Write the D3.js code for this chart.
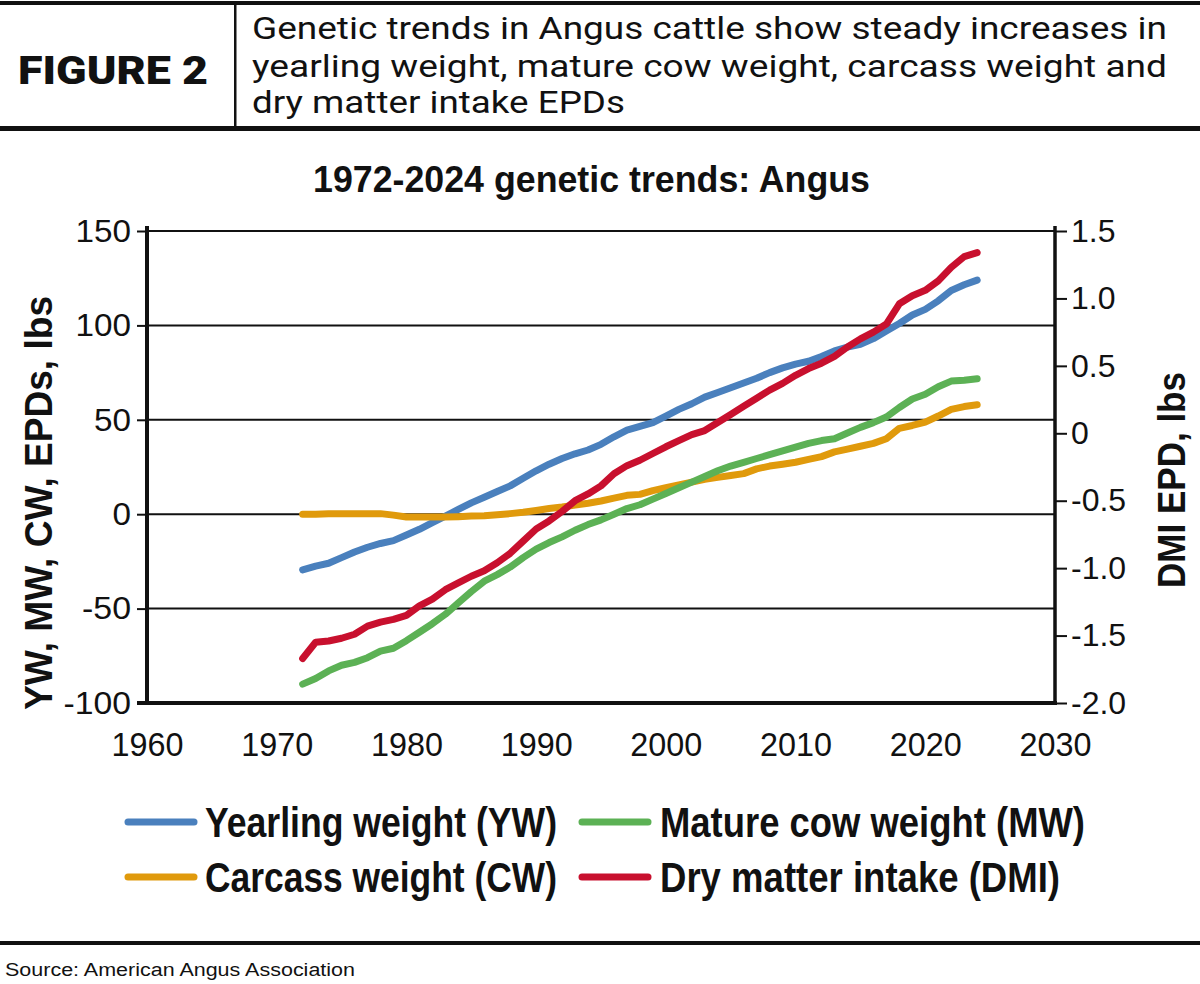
<!DOCTYPE html>
<html>
<head>
<meta charset="utf-8">
<script src="https://cdn.jsdelivr.net/npm/d3@7"></script>
<style>
  html, body { margin: 0; padding: 0; background: #ffffff; }
  svg { display: block; }
</style>
</head>
<body>
<svg id="chart" width="1200" height="984"></svg>
<script>
// ---------- DATA ----------
const years = d3.range(1972, 2025);
const yearlingWeight = [-29.5,-27.5,-26,-23,-20,-17.5,-15.5,-14,-11,-8,-4.5,-1,2.5,6,9,12,15,19,23,26.5,29.5,32,34,37,41,44.5,46.5,48.5,52,55.5,58.5,62,64.5,67,69.5,72,75,77.5,79.5,81,83.5,86.5,88.5,90,93,97,101,105.5,108.5,113,118.5,121.5,124];
const matureCowWeight = [-90,-87,-83,-80,-78.5,-76,-72.5,-71,-67,-62.5,-58,-53,-47,-41,-35.5,-32,-28,-23,-18.5,-15,-12,-8.5,-5.5,-3,0,3,5,8,11,14,17,20,23,25.5,27.5,29.5,31.5,33.5,35.5,37.5,39,40,43,46,48.5,51.5,56.5,61,63.5,67.5,70.5,71,71.7];
const carcassWeight = [0,0,0.2,0.3,0.3,0.3,0.3,-0.5,-1.5,-1.5,-1.5,-1.5,-1.3,-1,-0.8,-0.3,0.3,1,2,3,3.8,4.8,5.8,7,8.5,10,10.5,12.5,14,15.5,17,18.5,19.5,20.5,21.5,24,25.5,26.5,27.5,29,30.5,33,34.5,36,37.5,40,45.5,47,48.8,52,55.5,57,58];
const dryMatterIntake = [-1.67,-1.55,-1.54,-1.52,-1.49,-1.43,-1.40,-1.38,-1.35,-1.28,-1.23,-1.16,-1.11,-1.06,-1.02,-0.96,-0.89,-0.80,-0.71,-0.65,-0.58,-0.50,-0.45,-0.39,-0.30,-0.24,-0.20,-0.15,-0.10,-0.055,-0.01,0.02,0.08,0.14,0.20,0.26,0.32,0.37,0.43,0.48,0.52,0.57,0.64,0.70,0.75,0.81,0.96,1.02,1.06,1.13,1.23,1.31,1.34];

const xTicks = [1960, 1970, 1980, 1990, 2000, 2010, 2020, 2030];
const leftTicks = [-100, -50, 0, 50, 100, 150];
const leftTickLabels = ["-100", "-50", "0", "50", "100", "150"];
const rightTicks = [-2.0, -1.5, -1.0, -0.5, 0, 0.5, 1.0, 1.5];
const rightTickLabels = ["-2.0", "-1.5", "-1.0", "-0.5", "0", "0.5", "1.0", "1.5"];

const seriesNames = ["Yearling weight (YW)", "Mature cow weight (MW)", "Carcass weight (CW)", "Dry matter intake (DMI)"];
const seriesColors = ["#4a80bd", "#5cb155", "#e09a0c", "#c8102e"];

const headerLines = [
  "Genetic trends in Angus cattle show steady increases in",
  "yearling weight, mature cow weight, carcass weight and",
  "dry matter intake EPDs"
];

// ---------- SETUP ----------
const svg = d3.select("#chart");
const W = 1200;
const plotLeft = 147, plotRight = 1055, plotTop = 231, plotBottom = 703;

const x = d3.scaleLinear().domain([1960, 2030]).range([plotLeft, plotRight]);
const yL = d3.scaleLinear().domain([-100, 150]).range([plotBottom, plotTop]);
const yR = d3.scaleLinear().domain([-2, 1.5]).range([plotBottom, plotTop]);

const narrow = "'Liberation Sans Narrow', 'Arial Narrow', 'Liberation Sans', Arial, sans-serif";
const regular = "'Liberation Sans', Arial, Helvetica, sans-serif";

// ---------- HEADER ----------
svg.append("rect").attr("x", 0).attr("y", 1).attr("width", W).attr("height", 4).attr("fill", "#111");
svg.append("rect").attr("x", 0).attr("y", 126).attr("width", W).attr("height", 5).attr("fill", "#111");
svg.append("rect").attr("x", 234).attr("y", 4).attr("width", 2.5).attr("height", 124).attr("fill", "#111");

svg.append("text")
  .attr("x", 18).attr("y", 84)
  .attr("font-family", "Roboto, 'Open Sans', sans-serif")
  .attr("font-weight", 900)
  .attr("font-size", 39)
  .attr("textLength", 190)
  .attr("lengthAdjust", "spacingAndGlyphs")
  .attr("fill", "#111")
  .text("FIGURE 2");

const headerBaselines = [39, 77, 113];
const headerWidths = [915, 915, 373];
headerLines.forEach((t, i) => {
  svg.append("text")
    .attr("x", 252).attr("y", headerBaselines[i])
    .attr("font-family", "Roboto, 'Open Sans', sans-serif")
    .attr("font-size", 31)
    .attr("textLength", headerWidths[i])
    .attr("lengthAdjust", "spacingAndGlyphs")
    .attr("fill", "#111")
    .text(t);
});

// ---------- CHART TITLE ----------
svg.append("text")
  .attr("x", 313).attr("y", 192)
  .attr("font-family", narrow)
  .attr("font-weight", "bold")
  .attr("font-size", 36)
  .attr("textLength", 557)
  .attr("lengthAdjust", "spacingAndGlyphs")
  .attr("fill", "#111")
  .text("1972-2024 genetic trends: Angus");

// ---------- GRIDLINES ----------
const g = svg.append("g");
g.selectAll("line.grid")
  .data(leftTicks.filter(d => d > -100))
  .join("line")
  .attr("class", "grid")
  .attr("x1", plotLeft).attr("x2", plotRight)
  .attr("y1", d => yL(d)).attr("y2", d => yL(d))
  .attr("stroke", "#111").attr("stroke-width", 2);

// ---------- AXES ----------
const leftAxis = d3.axisLeft(yL).tickValues(leftTicks).tickSize(10).tickPadding(6)
  .tickFormat((d, i) => leftTickLabels[i]);
const gl = svg.append("g").attr("transform", `translate(${plotLeft},0)`).call(leftAxis);
gl.select(".domain").remove();
gl.selectAll(".tick line").attr("stroke", "#111").attr("stroke-width", 2);
gl.selectAll(".tick text").attr("font-family", regular).attr("font-size", 32).attr("fill", "#111")
  .attr("textLength", (d, i) => leftTickLabels[i].replace("-", "").length * 18.5 + (leftTickLabels[i].startsWith("-") ? 12 : 0))
  .attr("lengthAdjust", "spacingAndGlyphs");

const rightAxis = d3.axisRight(yR).tickValues(rightTicks).tickSize(12).tickPadding(4)
  .tickFormat((d, i) => rightTickLabels[i]);
const gr = svg.append("g").attr("transform", `translate(${plotRight},0)`).call(rightAxis);
gr.select(".domain").remove();
gr.selectAll(".tick line").attr("stroke", "#111").attr("stroke-width", 2);
gr.selectAll(".tick text").attr("font-family", regular).attr("font-size", 32).attr("fill", "#111");

const bottomAxis = d3.axisBottom(x).tickValues(xTicks).tickSize(0).tickPadding(30).tickFormat(d => String(d));
const gb = svg.append("g").attr("transform", `translate(0,${plotBottom})`).call(bottomAxis);
gb.select(".domain").remove();
gb.selectAll(".tick text").attr("font-family", regular).attr("font-size", 33).attr("fill", "#111")
  .attr("textLength", 72).attr("lengthAdjust", "spacingAndGlyphs");

// axis lines
svg.append("line").attr("x1", plotLeft).attr("x2", plotLeft).attr("y1", plotTop - 5).attr("y2", plotBottom + 2)
  .attr("stroke", "#111").attr("stroke-width", 4);
svg.append("line").attr("x1", plotRight).attr("x2", plotRight).attr("y1", plotTop - 5).attr("y2", plotBottom + 2)
  .attr("stroke", "#111").attr("stroke-width", 3.5);
svg.append("line").attr("x1", plotLeft - 10).attr("x2", plotRight + 2).attr("y1", plotBottom).attr("y2", plotBottom)
  .attr("stroke", "#111").attr("stroke-width", 4);

// axis titles
svg.append("text")
  .attr("transform", `translate(52,503) rotate(-90)`)
  .attr("text-anchor", "middle")
  .attr("font-family", narrow).attr("font-weight", "bold").attr("font-size", 38)
  .attr("textLength", 414).attr("lengthAdjust", "spacingAndGlyphs")
  .attr("fill", "#111")
  .text("YW, MW, CW, EPDs, lbs");

svg.append("text")
  .attr("transform", `translate(1185,480) rotate(-90)`)
  .attr("text-anchor", "middle")
  .attr("font-family", narrow).attr("font-weight", "bold").attr("font-size", 38)
  .attr("textLength", 216).attr("lengthAdjust", "spacingAndGlyphs")
  .attr("fill", "#111")
  .text("DMI EPD, lbs");

// ---------- LINES ----------
const lineL = d3.line().x((d, i) => x(years[i])).y(d => yL(d));
const lineR = d3.line().x((d, i) => x(years[i])).y(d => yR(d));

const seriesData = [
  { values: yearlingWeight, gen: lineL, color: seriesColors[0] },
  { values: carcassWeight, gen: lineL, color: seriesColors[2] },
  { values: matureCowWeight, gen: lineL, color: seriesColors[1] },
  { values: dryMatterIntake, gen: lineR, color: seriesColors[3] }
];
svg.append("g").selectAll("path")
  .data(seriesData)
  .join("path")
  .attr("d", d => d.gen(d.values))
  .attr("fill", "none")
  .attr("stroke", d => d.color)
  .attr("stroke-width", 7)
  .attr("stroke-linecap", "round")
  .attr("stroke-linejoin", "round");

// ---------- LEGEND ----------
const legendPos = [
  { sx: 128, tx: 205, y: 822, w: 352 },
  { sx: 582, tx: 660, y: 822, w: 425 },
  { sx: 128, tx: 205, y: 877, w: 352 },
  { sx: 582, tx: 660, y: 877, w: 400 }
];
const lg = svg.append("g");
seriesNames.forEach((name, i) => {
  const p = legendPos[i];
  lg.append("line")
    .attr("x1", p.sx).attr("x2", p.sx + 66)
    .attr("y1", p.y).attr("y2", p.y)
    .attr("stroke", seriesColors[i]).attr("stroke-width", 7).attr("stroke-linecap", "round");
  lg.append("text")
    .attr("x", p.tx).attr("y", p.y + 15)
    .attr("font-family", narrow).attr("font-weight", "bold").attr("font-size", 42)
    .attr("textLength", p.w).attr("lengthAdjust", "spacingAndGlyphs")
    .attr("fill", "#111")
    .text(name);
});

// ---------- FOOTER ----------
svg.append("rect").attr("x", 0).attr("y", 941).attr("width", W).attr("height", 4).attr("fill", "#111");
svg.append("text")
  .attr("x", 5).attr("y", 976)
  .attr("font-family", regular).attr("font-size", 18)
  .attr("textLength", 350).attr("lengthAdjust", "spacingAndGlyphs")
  .attr("fill", "#111")
  .text("Source: American Angus Association");
</script>
</body>
</html>
